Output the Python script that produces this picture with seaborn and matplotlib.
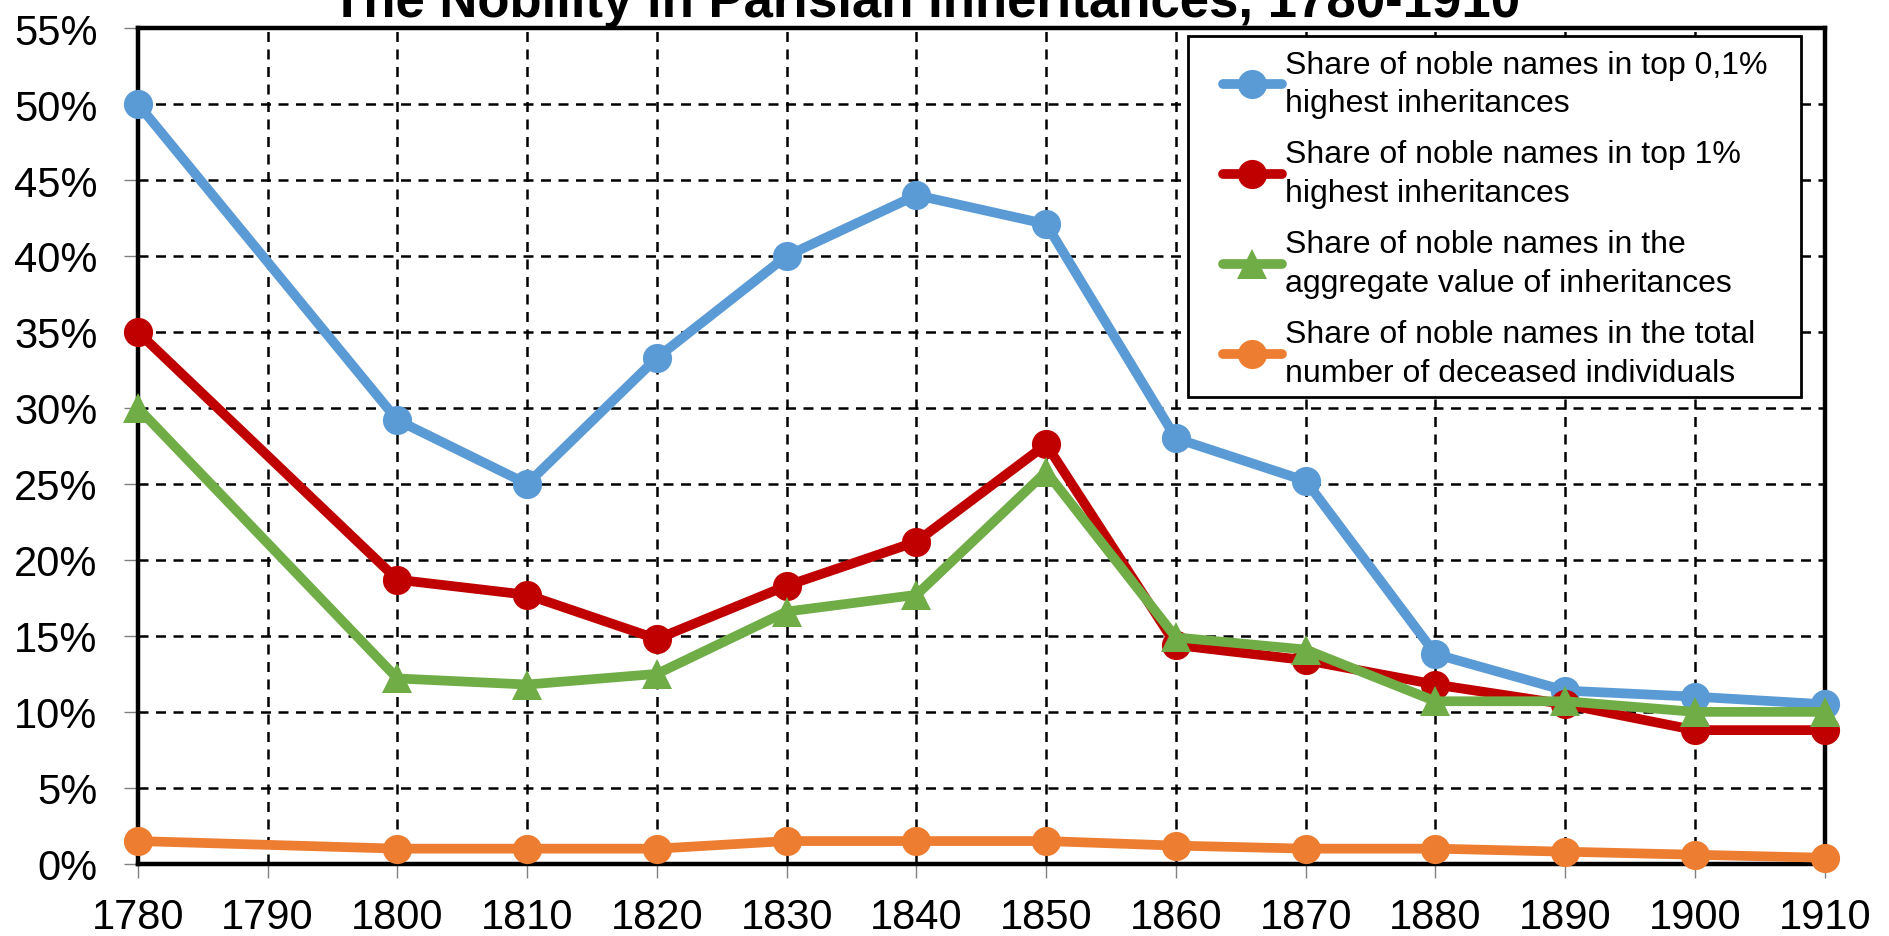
import matplotlib
matplotlib.use("Agg")
import matplotlib.pyplot as plt
import seaborn as sns
import pandas as pd
from matplotlib.ticker import FuncFormatter, MultipleLocator
from matplotlib.patches import Rectangle
from matplotlib.transforms import IdentityTransform

years = [1780, 1800, 1810, 1820, 1830, 1840, 1850, 1860, 1870, 1880, 1890, 1900, 1910]
top01 = [50.0, 29.2, 25.0, 33.3, 40.0, 44.0, 42.1, 28.0, 25.2, 13.8, 11.4, 11.0, 10.5]
top1 = [35.0, 18.7, 17.7, 14.8, 18.3, 21.2, 27.6, 14.4, 13.4, 11.8, 10.5, 8.8, 8.8]
aggregate = [30.0, 12.2, 11.8, 12.5, 16.6, 17.7, 25.8, 14.9, 14.1, 10.7, 10.7, 10.0, 10.0]
deceased = [1.5, 1.0, 1.0, 1.0, 1.5, 1.5, 1.5, 1.2, 1.0, 1.0, 0.8, 0.6, 0.4]

labels = [
    "Share of noble names in top 0,1%\nhighest inheritances",
    "Share of noble names in top 1%\nhighest inheritances",
    "Share of noble names in the\naggregate value of inheritances",
    "Share of noble names in the total\nnumber of deceased individuals",
]
colors = ["#5B9BD5", "#C00000", "#70AD47", "#ED7D31"]
markers = ["o", "o", "^", "o"]
title = "The Nobility in Parisian Inheritances, 1780-1910"
xticks = list(range(1780, 1911, 10))

sns.set_theme(style="white")
plt.rcParams['font.family'] = ['Liberation Sans', 'DejaVu Sans']
plt.rcParams['text.color'] = 'black'
plt.rcParams['xtick.color'] = 'black'
plt.rcParams['ytick.color'] = 'black'

fig = plt.figure(figsize=(18.89, 9.37), dpi=100)
ax = fig.add_axes([0.073, 0.077, 0.893, 0.892])

for vals, lab, col, mk in zip([top01, top1, aggregate, deceased], labels, colors, markers):
    df = pd.DataFrame({"year": years, "value": vals})
    sns.lineplot(data=df, x="year", y="value", ax=ax, color=col, marker=mk,
                 markersize=21 if mk == "o" else 22, markeredgewidth=0,
                 linewidth=7, label=lab, clip_on=False, zorder=3)

ax.set_xlim(1780, 1910)
ax.set_ylim(0, 55)
ax.set_xticks(xticks)
ax.yaxis.set_major_locator(MultipleLocator(5))
ax.yaxis.set_major_formatter(FuncFormatter(lambda v, p: f"{int(round(v))}%"))
ax.set_xlabel("")
ax.set_ylabel("")
ax.grid(True, which="major", color="black", linestyle=(0, (4, 3)), linewidth=1.8)
ax.set_axisbelow(True)
for s in ax.spines.values():
    s.set_visible(True)
    s.set_color("black")
    s.set_linewidth(3.2)
ax.tick_params(axis="both", which="major", labelsize=30, length=10, width=1,
               color="#808080", labelcolor="black", direction="out", left=True, bottom=True)
ax.tick_params(axis="y", pad=19)
ax.tick_params(axis="x", pad=14)

leg = ax.legend(loc="upper right", bbox_to_anchor=(0.968, 0.978), fontsize=23,
                frameon=False, handlelength=1.85, handletextpad=0.1,
                labelspacing=0.66, borderpad=0.1, borderaxespad=0.0)
leg.set_zorder(6)
for t in leg.get_texts():
    t.set_linespacing(1.38)
    t.set_color("black")

fig.canvas.draw()
bb = leg.get_window_extent()
pad_l, pad_r, pad_t, pad_b = 32, 30, 10, 6
rect = Rectangle((bb.x0 - pad_l, bb.y0 - pad_b), bb.width + pad_l + pad_r,
                 bb.height + pad_t + pad_b, transform=IdentityTransform(),
                 facecolor="white", edgecolor="black", linewidth=2.0,
                 zorder=5.5, clip_on=False)
ax.add_artist(rect)

fig.text(0.49, 0.982, title, ha="center", va="baseline", fontsize=38,
         fontweight="bold", color="black")

fig.savefig("out.png", dpi=100)
